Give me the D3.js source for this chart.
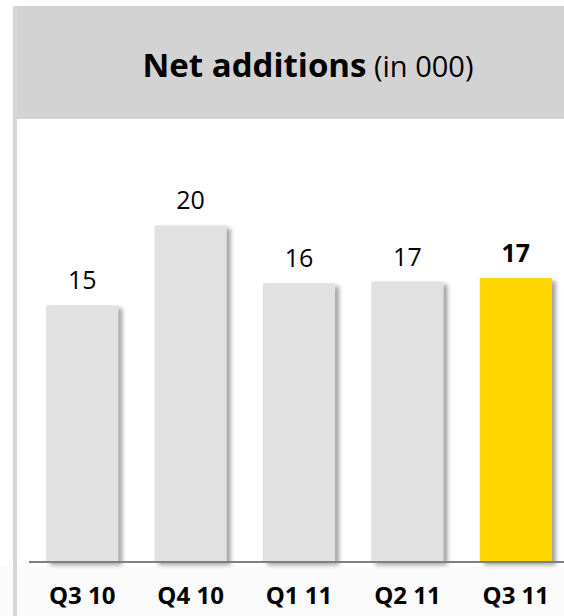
<!DOCTYPE html>
<html>
<head>
<meta charset="utf-8">
<script src="https://cdn.jsdelivr.net/npm/d3@7"></script>
<style>
  html, body { margin: 0; padding: 0; background: #fff; }
  svg { display: block; }
</style>
</head>
<body>
<script>
// data
const quarters = ["Q3 10", "Q4 10", "Q1 11", "Q2 11", "Q3 11"];
const netAdditions = [15.1, 19.8, 16.4, 16.5, 16.7];
const highlight = ["Q3 11"];

const width = 564;
const height = 616;
const font = "'Open Sans', 'Noto Sans', sans-serif";

const svg = d3.select("body")
  .append("svg")
  .attr("width", width)
  .attr("height", height);

// shadow on the right of each bar
const defs = svg.append("defs");
defs.append("filter")
  .attr("id", "shadow")
  .attr("x", "-10%").attr("y", "-10%")
  .attr("width", "130%").attr("height", "120%")
  .append("feDropShadow")
  .attr("dx", 4).attr("dy", 3)
  .attr("stdDeviation", 2)
  .attr("flood-color", "#555")
  .attr("flood-opacity", 0.55);

// faint band under the axis
svg.append("rect")
  .attr("x", 0).attr("y", 566)
  .attr("width", width).attr("height", height - 566)
  .attr("fill", "#fbfbfb");

// header panel
svg.append("rect")
  .attr("x", 13).attr("y", 6)
  .attr("width", width - 13).attr("height", 113)
  .attr("fill", "#d3d3d3");

// left border strip
svg.append("rect")
  .attr("x", 13).attr("y", 6)
  .attr("width", 4).attr("height", height - 6)
  .attr("fill", "#d6d6d6");

const title = svg.append("text")
  .attr("x", 308).attr("y", 77)
  .attr("text-anchor", "middle")
  .style("font-family", font)
  .style("font-size", "33px")
  .attr("fill", "#000");
title.append("tspan").style("font-weight", "bold").text("Net additions");
title.append("tspan").style("font-size", "29px").text(" (in 000)");

const x = d3.scaleBand()
  .domain(quarters)
  .range([28, 570])
  .paddingInner(0.335)
  .paddingOuter(0.1675);

const baseline = 562;
const y = d3.scaleLinear()
  .domain([0, 20])
  .range([baseline, baseline - 340]);

const g = svg.append("g");

g.selectAll(".bar")
  .data(quarters)
  .join("rect")
  .attr("class", "bar")
  .attr("x", (d) => x(d))
  .attr("width", x.bandwidth())
  .attr("y", (d, i) => y(netAdditions[i]))
  .attr("height", (d, i) => y(0) - y(netAdditions[i]))
  .attr("fill", (d) => highlight.includes(d) ? "#ffd600" : "#e1e1e1")
  .attr("filter", "url(#shadow)");

g.selectAll(".value")
  .data(quarters)
  .join("text")
  .attr("class", "value")
  .attr("x", (d) => x(d) + x.bandwidth() / 2)
  .attr("y", (d, i) => y(netAdditions[i]) - 16)
  .attr("text-anchor", "middle")
  .style("font-family", font)
  .style("font-size", "25px")
  .style("font-weight", (d) => highlight.includes(d) ? "bold" : "normal")
  .text((d, i) => Math.round(netAdditions[i]));

// axis
const axis = svg.append("g")
  .attr("transform", `translate(0,${baseline})`)
  .call(d3.axisBottom(x).tickSize(0).tickPadding(25));
axis.select(".domain")
  .attr("d", `M29,0H${width}`)
  .attr("stroke", "#808080")
  .attr("stroke-width", 2);
axis.selectAll(".tick text")
  .style("font-family", font)
  .style("font-size", "24px")
  .style("font-weight", "bold")
  .attr("fill", "#000");
</script>
</body>
</html>
